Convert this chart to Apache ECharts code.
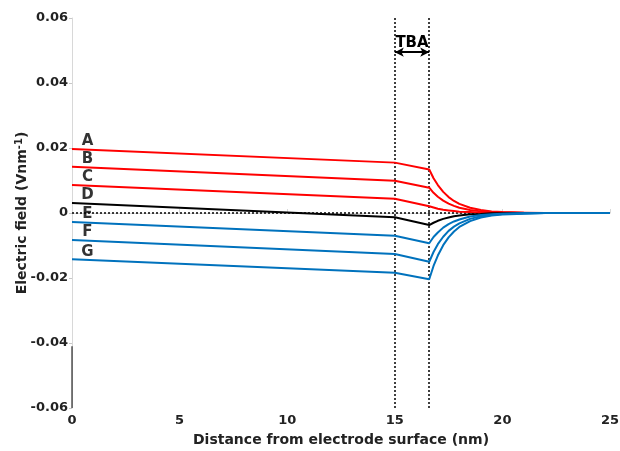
<!DOCTYPE html>
<html><head><meta charset="utf-8">
<script src="https://cdn.jsdelivr.net/npm/echarts@6/dist/echarts.min.js"></script>
<style>html,body{margin:0;padding:0;background:#fff}#c{width:620px;height:451px}</style>
</head><body><div id="c"></div>
<script>
const xs = [0, 15, 16.6, 16.8, 17.0, 17.25, 17.5, 17.75, 18, 18.5, 19, 19.5, 20, 21, 22, 25];
const curveNames = ['A','B','C','D','E','F','G'];
const A = [0.0197, 0.0155, 0.0134, 0.0107, 0.0086, 0.0065, 0.0049, 0.0037, 0.0028, 0.0016, 0.0009, 0.0005, 0.0003, 0.0001, 0, 0];
const B = [0.0142, 0.0099, 0.0078, 0.0062, 0.0050, 0.0038, 0.0029, 0.0022, 0.0016, 0.0009, 0.0005, 0.0003, 0.0002, 0.0001, 0, 0];
const C = [0.0086, 0.0044, 0.0021, 0.0017, 0.0013, 0.0010, 0.0008, 0.0006, 0.0004, 0.0003, 0.0001, 0.0001, 0, 0, 0, 0];
const D = [0.0031, -0.0013, -0.0037, -0.0030, -0.0024, -0.0018, -0.0014, -0.0010, -0.0008, -0.0004, -0.0003, -0.0001, -0.0001, 0, 0, 0];
const E = [-0.0028, -0.0070, -0.0093, -0.0074, -0.0060, -0.0045, -0.0034, -0.0026, -0.0020, -0.0011, -0.0006, -0.0004, -0.0002, -0.0001, 0, 0];
const F = [-0.0083, -0.0126, -0.0150, -0.0120, -0.0096, -0.0073, -0.0055, -0.0042, -0.0032, -0.0018, -0.0010, -0.0006, -0.0003, -0.0001, 0, 0];
const G = [-0.0142, -0.0184, -0.0204, -0.0163, -0.0131, -0.0099, -0.0075, -0.0057, -0.0043, -0.0025, -0.0014, -0.0008, -0.0005, -0.0002, 0, 0];
const curves = [A, B, C, D, E, F, G];
const curveColors = ['#ff0000','#ff0000','#ff0000','#000000','#0072bd','#0072bd','#0072bd'];
const labelX = 0.72;
const tbaStart = 15, tbaEnd = 16.6, tbaY = 0.0495;

const font = '"DejaVu Sans", sans-serif';
const series = curves.map((vals, i) => ({
  type: 'line', name: curveNames[i], data: xs.map((x, j) => [x, vals[j]]),
  showSymbol: false, symbol: 'none', lineStyle: { color: curveColors[i], width: 2 },
  itemStyle: { color: curveColors[i] }, z: 5, animation: false
}));
series.push({
  type: 'scatter', symbolSize: 0, silent: true, animation: false,
  data: curves.map((vals, i) => ({ value: [labelX, vals[0]], name: curveNames[i] })),
  label: { show: true, position: 'top', distance: 0, formatter: p => p.name,
    fontFamily: font, fontWeight: 'bold', fontSize: 15, color: '#000' }
});
series.push({
  type: 'line', data: [], animation: false,
  markLine: {
    silent: true, symbol: 'none', animation: false,
    lineStyle: { type: [2, 2], color: '#000', width: 1.5 },
    label: { show: false },
    data: [{ xAxis: tbaStart }, { xAxis: tbaEnd }, { yAxis: 0 }]
  }
});
series.push({
  type: 'line', data: [], animation: false,
  markLine: {
    silent: true, symbol: ['arrow', 'arrow'], symbolSize: [7, 9], animation: false,
    lineStyle: { type: 'solid', color: '#000', width: 1.8 },
    label: { show: true, position: 'insideMiddleTop', formatter: 'TBA', distance: 2,
      fontFamily: font, fontWeight: 'bold', fontSize: 15, color: '#000' },
    data: [[{ coord: [tbaStart, tbaY] }, { coord: [tbaEnd, tbaY] }]]
  }
});
series.push({
  type: 'line', data: [[0, -0.041], [0, -0.06]], symbol: 'none', animation: false,
  lineStyle: { color: '#000', width: 1 }, z: 6
});

const chart = echarts.init(document.getElementById('c'), null, { renderer: 'canvas' });
chart.setOption({
  animation: false,
  grid: { left: 72, right: 10, top: 18, bottom: 43, containLabel: false, outerBoundsMode: 'none' },
  xAxis: {
    type: 'value', min: 0, max: 25, interval: 5,
    name: 'Distance from electrode surface (nm)', nameLocation: 'middle', nameGap: 25,
    nameMoveOverlap: false,
    nameTextStyle: { fontFamily: font, fontWeight: 'bold', fontSize: 14, color: '#222' },
    axisLine: { show: true, lineStyle: { color: '#d8d8d8', width: 1 } },
    axisTick: { show: true, inside: true, length: 4, lineStyle: { color: '#d8d8d8' } },
    axisLabel: { fontFamily: font, fontWeight: 'bold', fontSize: 13, color: '#222', margin: 6 },
    splitLine: { show: false }
  },
  yAxis: {
    type: 'value', min: -0.06, max: 0.06, interval: 0.02,
    name: 'Electric field (Vnm{sup|-1})', nameLocation: 'middle', nameGap: 41,
    nameMoveOverlap: false,
    nameTextStyle: { fontFamily: font, fontWeight: 'bold', fontSize: 14, color: '#222',
      rich: { sup: { fontFamily: font, fontWeight: 'bold', fontSize: 10, color: '#222', verticalAlign: 'top', padding: [0,0,7,0] } } },
    axisLine: { show: true, lineStyle: { color: '#d8d8d8', width: 1 } },
    axisTick: { show: true, length: 3, lineStyle: { color: '#c8c8c8' } },
    axisLabel: { fontFamily: font, fontWeight: 'bold', fontSize: 13, color: '#222', margin: 4,
      formatter: v => { const r = Math.round(v * 100) / 100; return r === 0 ? '0' : r.toFixed(2); } },
    splitLine: { show: false }
  },
  series: series
});
</script></body></html>
